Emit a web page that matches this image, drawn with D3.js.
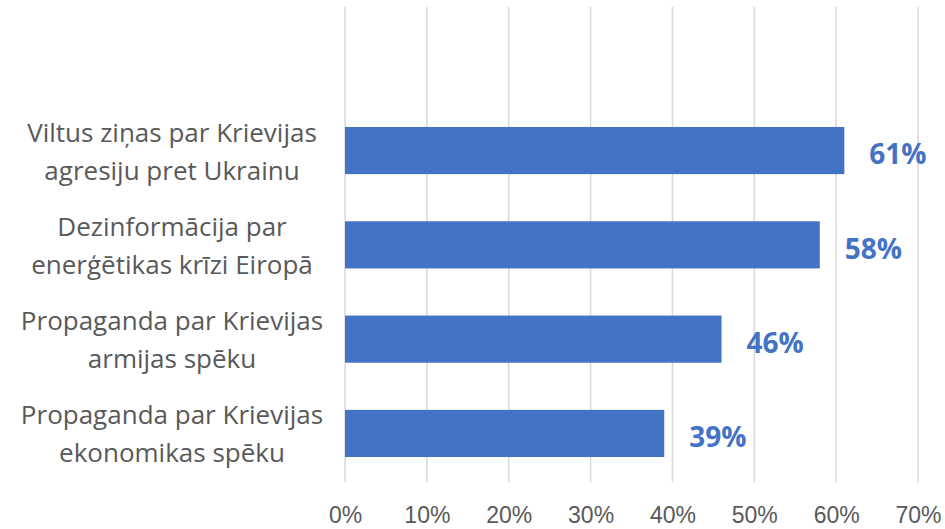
<!DOCTYPE html>
<html>
<head>
<meta charset="utf-8">
<script src="https://cdn.jsdelivr.net/npm/d3@7"></script>
<style>
  body { margin: 0; background: #fff; }
  svg { display: block; font-family: "Open Sans", "Noto Sans", sans-serif; }
</style>
</head>
<body>
<div id="chart"></div>
<script>
// categories (each split into two lines as in the original)
const categories = [
    ['Viltus ziņas par Krievijas', 'agresiju pret Ukrainu'],
    ['Dezinformācija par', 'enerģētikas krīzi Eiropā'],
    ['Propaganda par Krievijas', 'armijas spēku'],
    ['Propaganda par Krievijas', 'ekonomikas spēku']
];
const values = [61, 58, 46, 39];
const ticks = [0, 10, 20, 30, 40, 50, 60, 70];

const width = 945, height = 529;

const svg = d3.select('#chart')
    .append('svg')
    .attr('width', width)
    .attr('height', height);

const x = d3.scaleLinear()
    .domain([0, 70])
    .range([345, 918]);

const y = d3.scaleBand()
    .domain(d3.range(categories.length))
    .range([103.4, 480.6])
    .paddingInner(0.5)
    .paddingOuter(0.25);

// vertical gridlines
svg.append('g')
    .selectAll('line')
    .data(ticks)
    .enter()
    .append('line')
    .attr('x1', d => x(d))
    .attr('x2', d => x(d))
    .attr('y1', 7)
    .attr('y2', 482)
    .attr('stroke', '#d9d9d9')
    .attr('stroke-width', 1.5);

// x axis labels
const xAxis = svg.append('g')
    .attr('transform', 'translate(0,482)')
    .call(d3.axisBottom(x).tickValues(ticks).tickFormat(d => d + '%').tickSize(0).tickPadding(25));
xAxis.select('.domain').remove();
xAxis.selectAll('text')
    .attr('fill', '#595959')
    .style('font-size', '23px');

// bars
svg.append('g')
    .selectAll('rect')
    .data(values)
    .enter()
    .append('rect')
    .attr('x', x(0))
    .attr('y', (d, i) => y(i))
    .attr('width', d => x(d) - x(0))
    .attr('height', y.bandwidth())
    .attr('fill', '#4472c4');

// value labels
svg.append('g')
    .selectAll('text')
    .data(values)
    .enter()
    .append('text')
    .attr('x', d => x(d) + 25)
    .attr('y', (d, i) => y(i) + y.bandwidth() / 2 + 4)
    .attr('dy', '0.35em')
    .attr('fill', '#4472c4')
    .style('font-size', '28px')
    .style('font-weight', 'bold')
    .text(d => d + '%');

// category labels
const labels = svg.append('g')
    .selectAll('text')
    .data(categories)
    .enter()
    .append('text')
    .attr('text-anchor', 'middle')
    .attr('fill', '#595959')
    .style('font-size', '26px');

labels.each(function(d, i) {
    const cy = y(i) + y.bandwidth() / 2;
    d3.select(this).selectAll('tspan')
        .data(d)
        .enter()
        .append('tspan')
        .attr('x', 172)
        .attr('y', (t, j) => cy - 9 + j * 38)
        .text(t => t);
});
</script>
</body>
</html>
